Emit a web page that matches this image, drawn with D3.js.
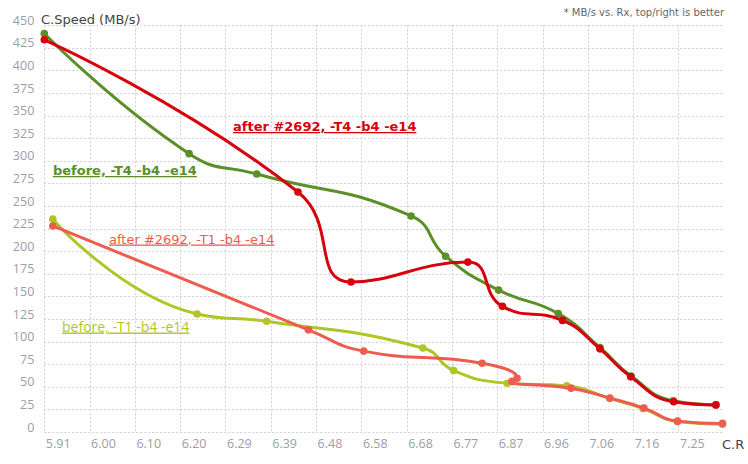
<!DOCTYPE html>
<html>
<head>
<meta charset="utf-8">
<script src="https://cdn.jsdelivr.net/npm/d3@7"></script>
<style>
  html, body { margin: 0; padding: 0; background: #fff; }
  svg { display: block; }
</style>
</head>
<body>
<div id="chart"></div>
<script>
// ---------- data ----------
const xTickLabels = ["5.91","6.00","6.10","6.20","6.29","6.39","6.48","6.58","6.68","6.77","6.87","6.96","7.06","7.16","7.25"];
const yTicks = [0,25,50,75,100,125,150,175,200,225,250,275,300,325,350,375,400,425,450];

const beforeT4X = [5.910, 6.216, 6.359, 6.685, 6.758, 6.870, 6.996, 7.084, 7.150, 7.239, 7.329];
const beforeT4Y = [441, 308, 285.5, 239, 194.5, 157, 131, 93.5, 62, 34.5, 30];

const afterT4X  = [5.910, 6.446, 6.558, 6.805, 6.878, 7.005, 7.084, 7.149, 7.240, 7.329];
const afterT4Y  = [434, 265.5, 166, 188, 139, 123.5, 92, 61, 33.5, 30];

const beforeT1X = [5.928, 6.233, 6.380, 6.710, 6.775, 6.888, 7.014, 7.105, 7.175, 7.248, 7.343];
const beforeT1Y = [235.5, 130.5, 122.5, 93, 68, 54, 51, 37, 26, 11.5, 8.5];

const afterT1X  = [5.928, 6.468, 6.585, 6.835, 6.909, 6.898, 7.023, 7.105, 7.177, 7.248, 7.343];
const afterT1Y  = [228, 113, 89.5, 76, 59.5, 56, 48.5, 37.5, 26.5, 12, 9.5];

const seriesNames = ["before, -T4 -b4 -e14", "after #2692, -T4 -b4 -e14", "before, -T1 -b4 -e14", "after #2692, -T1 -b4 -e14"];

// ---------- layout ----------
const W = 748, H = 464;
const xMin = 5.91, xMax = 7.343;
const x = d3.scaleLinear().domain([xMin, xMax]).range([44.3, 722.5]);
const y = d3.scaleLinear().domain([0, 450]).range([432, 25.3]);
const xStep = (7.25 - 5.91) / 14;
const xTickValues = xTickLabels.map((_, i) => xMin + i * xStep);

const svg = d3.select("#chart").append("svg").attr("width", W).attr("height", H);

// grid
const grid = svg.append("g").attr("stroke", "#d0d0d0").attr("stroke-width", 1).attr("stroke-dasharray", "2,2");
grid.selectAll("line.h").data(yTicks).join("line")
  .attr("x1", x(xMin)).attr("x2", x(xMax))
  .attr("y1", d => Math.round(y(d)) + 0.5).attr("y2", d => Math.round(y(d)) + 0.5);
grid.selectAll("line.v").data(xTickValues).join("line")
  .attr("x1", d => Math.round(x(d)) + 0.5).attr("x2", d => Math.round(x(d)) + 0.5)
  .attr("y1", y(450)).attr("y2", y(0));

// y axis labels
const yAxis = svg.append("g").attr("transform", `translate(${x(xMin) - 10},-5)`)
  .call(d3.axisLeft(y).tickValues(yTicks).tickSize(0).tickPadding(0));
yAxis.select(".domain").remove();
yAxis.selectAll("text").attr("fill", "#9d9da8").attr("font-family", "'Open Sans', sans-serif").attr("font-size", 12.5);

// x axis labels
const xAxis = svg.append("g").attr("transform", `translate(0,${y(0) + 7})`)
  .call(d3.axisBottom(x).tickValues(xTickValues).tickFormat((d, i) => xTickLabels[i]).tickSize(0).tickPadding(0));
xAxis.select(".domain").remove();
xAxis.selectAll("text").attr("fill", "#9d9da8").attr("font-family", "'Open Sans', sans-serif").attr("font-size", 12.5)
  .attr("text-anchor", "start").attr("dx", 1);

// axis names
svg.append("text").attr("x", 41).attr("y", 23.5).attr("fill", "#444")
  .attr("font-family", "'DejaVu Sans', sans-serif").attr("font-size", 13).text("C.Speed (MB/s)");
svg.append("text").attr("x", 722).attr("y", 448.5).attr("fill", "#444")
  .attr("font-family", "'DejaVu Sans', sans-serif").attr("font-size", 13).text("C.R");
svg.append("text").attr("x", 724).attr("y", 16).attr("text-anchor", "end").attr("fill", "#666")
  .attr("font-family", "'DejaVu Sans', sans-serif").attr("font-size", 10).text("* MB/s vs. Rx, top/right is better");

// ---------- ECharts-like smooth curve as a d3 curve ----------
function SmoothCurve(context, smooth) { this._context = context; this._smooth = smooth; }
SmoothCurve.prototype = {
  areaStart() {}, areaEnd() {},
  lineStart() { this._pts = []; },
  point(px, py) { this._pts.push([+px, +py]); },
  lineEnd() {
    const p = this._pts, c = this._context, s = this._smooth, n = p.length;
    if (!n) return;
    const mn = Math.min, mx = Math.max;
    let prevX, prevY, cpx0, cpy0, cpx1, cpy1, ncx = 0, ncy = 0;
    for (let k = 0; k < n; k++) {
      const px = p[k][0], py = p[k][1];
      if (k === 0) { c.moveTo(px, py); cpx0 = px; cpy0 = py; }
      else {
        if (k === n - 1) { cpx1 = px; cpy1 = py; }
        else {
          const nx = p[k + 1][0], ny = p[k + 1][1];
          let vx = nx - prevX, vy = ny - prevY;
          const l0 = Math.hypot(px - prevX, py - prevY);
          const l1 = Math.hypot(nx - px, ny - py);
          const r = l1 / (l1 + l0);
          ncx = px + vx * s * r; ncy = py + vy * s * r;
          ncx = mx(mn(ncx, mx(nx, px)), mn(nx, px));
          ncy = mx(mn(ncy, mx(ny, py)), mn(ny, py));
          vx = ncx - px; vy = ncy - py;
          cpx1 = px - vx * l0 / l1; cpy1 = py - vy * l0 / l1;
          cpx1 = mx(mn(cpx1, mx(prevX, px)), mn(prevX, px));
          cpy1 = mx(mn(cpy1, mx(prevY, py)), mn(prevY, py));
          vx = px - cpx1; vy = py - cpy1;
          ncx = px + vx * l1 / l0; ncy = py + vy * l1 / l0;
        }
        c.bezierCurveTo(cpx0, cpy0, cpx1, cpy1, px, py);
        cpx0 = ncx; cpy0 = ncy;
      }
      prevX = px; prevY = py;
    }
  }
};
const curveSmooth = ctx => new SmoothCurve(ctx, 0.5);

const series = [
  { name: seriesNames[0], xs: beforeT4X, ys: beforeT4Y, color: "#5a9027" },
  { name: seriesNames[1], xs: afterT4X,  ys: afterT4Y,  color: "#d8000c" },
  { name: seriesNames[2], xs: beforeT1X, ys: beforeT1Y, color: "#b1c428" },
  { name: seriesNames[3], xs: afterT1X,  ys: afterT1Y,  color: "#ee5c50" }
];

const line = d3.line().x(d => x(d[0])).y(d => y(d[1])).curve(curveSmooth);

series.forEach(s => {
  const pts = s.xs.map((v, i) => [v, s.ys[i]]);
  const g = svg.append("g");
  g.append("path").attr("d", line(pts)).attr("fill", "none")
    .attr("stroke", s.color).attr("stroke-width", 3).attr("stroke-linejoin", "round");
  g.selectAll("circle").data(pts).join("circle")
    .attr("cx", d => x(d[0])).attr("cy", d => y(d[1])).attr("r", 3.8).attr("fill", s.color);
});

// ---------- series labels ----------
const labels = [
  { text: seriesNames[1], x: 233, y: 131, color: "#d8000c", weight: "bold", family: "'DejaVu Sans', sans-serif", size: 13 },
  { text: seriesNames[0], x: 53,  y: 175, color: "#5a9027", weight: "bold", family: "'DejaVu Sans', sans-serif", size: 13 },
  { text: seriesNames[3], x: 109, y: 243.5, color: "#ee5c50", weight: "normal", family: "'DejaVu Sans', sans-serif", size: 13 },
  { text: seriesNames[2], x: 62,  y: 331.5, color: "#b1c428", weight: "normal", family: "'Open Sans', sans-serif", size: 14 }
];
svg.selectAll("text.lbl").data(labels).join("text").attr("class", "lbl")
  .attr("x", d => d.x).attr("y", d => d.y).attr("fill", d => d.color)
  .attr("font-family", d => d.family).attr("font-weight", d => d.weight).attr("font-size", d => d.size)
  .style("text-decoration", "underline").text(d => d.text);
</script>
</body>
</html>
